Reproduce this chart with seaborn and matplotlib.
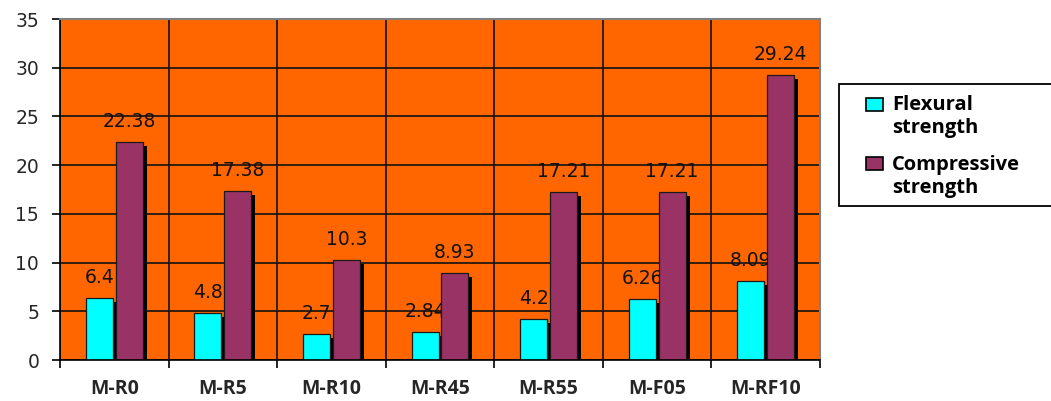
import matplotlib
matplotlib.use("Agg")
import matplotlib.pyplot as plt
from matplotlib.patches import Rectangle
from matplotlib.transforms import offset_copy
import seaborn as sns
import pandas as pd

# Strength results per mix (MPa)
mixes = ["M-R0", "M-R5", "M-R10", "M-R45", "M-R55", "M-F05", "M-RF10"]
flexural = [6.4, 4.8, 2.7, 2.84, 4.2, 6.26, 8.09]
compressive = [22.38, 17.38, 10.3, 8.93, 17.21, 17.21, 29.24]
series_names = ["Flexural strength", "Compressive strength"]
legend_lines = [["Flexural", "strength"], ["Compressive", "strength"]]
flex_labels = ["6.4", "4.8", "2.7", "2.84", "4.2", "6.26", "8.09"]
comp_labels = ["22.38", "17.38", "10.3", "8.93", "17.21", "17.21", "29.24"]
y_ticks = [0, 5, 10, 15, 20, 25, 30, 35]

colors = ["#00FFFF", "#993366"]
plot_bg = "#FF6600"

df = pd.DataFrame({
    "mix": mixes * 2,
    "series": [series_names[0]] * len(mixes) + [series_names[1]] * len(mixes),
    "value": flexural + compressive,
})

sns.set_style("white")
plt.rcParams["font.family"] = ["DejaVu Sans"]

W, H = 1051, 401
fig = plt.figure(figsize=(W / 100, H / 100), dpi=100)
ax = fig.add_axes([60 / W, 1 - 360 / H, 760 / W, 341 / H])
ax.set_facecolor(plot_bg)

sns.barplot(data=df, x="mix", y="value", hue="series", order=mixes,
            hue_order=series_names, palette=colors, width=0.55, gap=0.1,
            edgecolor="#1a1a1a", linewidth=0.9, saturation=1, ax=ax,
            legend=False, zorder=2)

# drop shadows behind every bar
bars = list(ax.patches)
shadow_tr = offset_copy(ax.transData, fig=fig, x=4, y=-4, units="dots")
for b in bars:
    sh = Rectangle((b.get_x(), b.get_y()), b.get_width(), b.get_height(),
                   facecolor="black", edgecolor="none", transform=shadow_tr,
                   zorder=1.5)
    ax.add_patch(sh)

# value labels above each bar
n = len(mixes)
label_size = 13.5
for i, b in enumerate(bars[:n]):
    ax.text(b.get_x() + b.get_width() / 2, flexural[i] + 2.1, flex_labels[i],
            ha="center", va="center", fontsize=label_size, color="#111111",
            zorder=1.2)
for i, b in enumerate(bars[n:2 * n]):
    ax.text(b.get_x() + b.get_width() / 2, compressive[i] + 2.1, comp_labels[i],
            ha="center", va="center", fontsize=label_size, color="#111111",
            zorder=1.2)

ax.set_xlim(-0.5, n - 0.5)
ax.set_ylim(0, 35)
ax.set_yticks(y_ticks)
ax.set_yticklabels([str(t) for t in y_ticks], fontsize=13.5)
ax.set_xticks(range(n))
ax.set_xticklabels(mixes, fontsize=14, fontweight="bold",
                   fontfamily=["Open Sans", "DejaVu Sans"])
ax.set_xticks([i + 0.5 for i in range(-1, n)], minor=True)
ax.tick_params(axis="x", which="major", length=0, pad=14)
ax.tick_params(axis="x", which="minor", length=6, width=1.2, color="black",
               bottom=True)
ax.tick_params(axis="y", length=6, width=1.2, color="black", left=True, pad=9)
ax.set_xlabel("")
ax.set_ylabel("")

ax.set_axisbelow(True)
ax.grid(False)
ax.yaxis.grid(True, color="#111111", linewidth=1.2)
ax.xaxis.grid(True, which="minor", color="#111111", linewidth=1.2)

for side in ["left", "bottom"]:
    ax.spines[side].set_color("black")
    ax.spines[side].set_linewidth(1.2)
for side in ["top", "right"]:
    ax.spines[side].set_color("#808080")
    ax.spines[side].set_linewidth(1.5)

# legend: framed box with colour keys and two-line labels
fig.patches.append(Rectangle((839 / W, 1 - 206 / H), (1100 - 839) / W,
                             122 / H, transform=fig.transFigure,
                             facecolor="white", edgecolor="black",
                             linewidth=1.3, zorder=0))
key_tops = [98, 157]
text_baselines = [[110, 133], [170, 193]]
legend_font = dict(family=["Open Sans", "DejaVu Sans"], weight="bold",
                   size=14.5, color="black")
for color, top, lines, bases in zip(colors, key_tops, legend_lines,
                                    text_baselines):
    fig.patches.append(Rectangle((866 / W, 1 - (top + 12.5) / H), 17 / W,
                                 12.5 / H, transform=fig.transFigure,
                                 facecolor=color, edgecolor="black",
                                 linewidth=1.2, zorder=1))
    for line, yb in zip(lines, bases):
        fig.text(892 / W, 1 - yb / H, line, ha="left", va="baseline",
                 **legend_font)

fig.savefig("out.png", dpi=100)
